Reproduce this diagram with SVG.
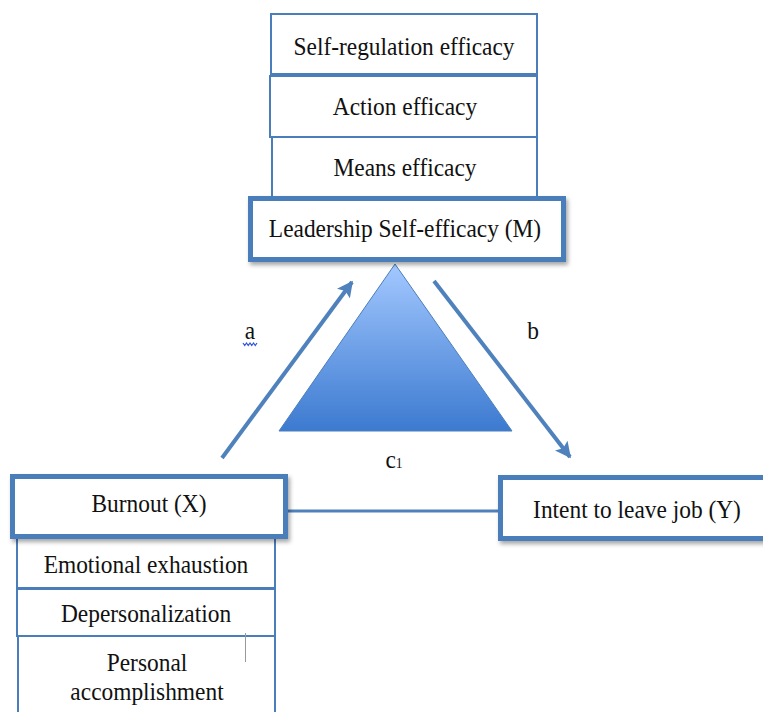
<svg xmlns="http://www.w3.org/2000/svg" width="763" height="712" viewBox="0 0 763 712">
<style>
.thin{fill:#fff;stroke:#4A7EBB;stroke-width:2}
.thick{fill:#fff;stroke:#4A7EBB;stroke-width:5}
.t{font-family:"Liberation Serif","Times New Roman",serif;font-size:26px;fill:#111;text-anchor:middle}
.edge{stroke:#4F81BD;stroke-width:4;fill:none}
</style>
<defs>
<filter id="sh" x="-10%" y="-20%" width="130%" height="150%">
<feDropShadow dx="2" dy="3" stdDeviation="2" flood-color="#000" flood-opacity="0.35"/>
</filter>
<linearGradient id="tri" x1="0" y1="0" x2="0" y2="1">
<stop offset="0" stop-color="#A3C8FF"/>
<stop offset="1" stop-color="#3C7AD0"/>
</linearGradient>
<marker id="ah" viewBox="0 0 10 10" refX="9" refY="5" markerWidth="4" markerHeight="4" orient="auto" markerUnits="strokeWidth">
<path d="M0,0 L10,5 L0,10 L2,5 z" fill="#4F81BD"/>
</marker>
</defs>

<g id="triangle">
<polygon points="395,264 279,431 512,431" fill="url(#tri)" stroke="#4A7EBB" stroke-width="1"/>
</g>

<g id="connectors">
<line class="edge" x1="222" y1="458" x2="352" y2="282" marker-end="url(#ah)"/>
<line class="edge" x1="434" y1="281" x2="570" y2="457" marker-end="url(#ah)"/>
<line x1="288" y1="511" x2="499" y2="511" stroke="#4F81BD" stroke-width="3"/>
</g>

<g id="labels">
<text class="t" transform="translate(250,339) scale(0.9,1)">a</text>
<path d="M243,343 l1.75,2.5 l1.75,-2.5 l1.75,2.5 l1.75,-2.5 l1.75,2.5 l1.75,-2.5 l1.75,2.5 l1.75,-2.5" stroke="#3050E0" stroke-width="1.2" fill="none"/>
<text class="t" transform="translate(533,339) scale(0.9,1)">b</text>
<text class="t" transform="translate(394,468) scale(0.9,1)">c<tspan font-size="15">1</tspan></text>
</g>

<g id="self-regulation">
<rect class="thin" x="271" y="14" width="266" height="60"/>
<text class="t" transform="translate(404,55) scale(0.9,1)">Self-regulation efficacy</text>
</g>
<g id="action">
<rect class="thin" x="270" y="76" width="267" height="61" stroke-width="2.5"/>
<text class="t" transform="translate(405,115) scale(0.9,1)">Action efficacy</text>
</g>
<g id="means">
<rect class="thin" x="272" y="137" width="265" height="62"/>
<text class="t" transform="translate(405,176) scale(0.9,1)">Means efficacy</text>
</g>
<g id="leadership">
<rect class="thick" x="250.5" y="198.5" width="313" height="61" filter="url(#sh)"/>
<text class="t" transform="translate(405,237) scale(0.9,1)">Leadership Self-efficacy (M)</text>
</g>

<g id="emotional">
<rect class="thin" x="17" y="536" width="258" height="52"/>
<text class="t" transform="translate(146,573) scale(0.9,1)">Emotional exhaustion</text>
</g>
<g id="depersonalization">
<rect class="thin" x="17" y="589" width="258" height="47"/>
<text class="t" transform="translate(146,622) scale(0.9,1)">Depersonalization</text>
</g>
<g id="personal">
<rect class="thin" x="18" y="636" width="257" height="90"/>
<text class="t" transform="translate(147,671) scale(0.9,1)">Personal</text>
<text class="t" transform="translate(147,700) scale(0.9,1)">accomplishment</text>
<line x1="245.5" y1="633" x2="245.5" y2="662" stroke="#999" stroke-width="1"/>
</g>
<g id="burnout">
<rect class="thick" x="12.5" y="476.5" width="273" height="60" filter="url(#sh)"/>
<text class="t" transform="translate(149,512) scale(0.9,1)">Burnout (X)</text>
</g>

<g id="intent">
<rect class="thick" x="500.5" y="477.5" width="300" height="61" filter="url(#sh)"/>
<text class="t" transform="translate(637,518) scale(0.9,1)">Intent to leave job (Y)</text>
</g>
</svg>
